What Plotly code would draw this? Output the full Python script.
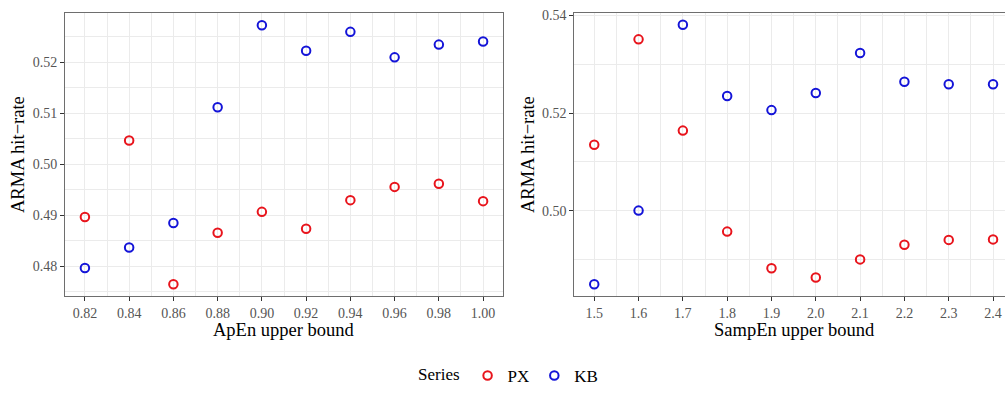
import plotly.graph_objects as go

apen_x = [0.82, 0.84, 0.86, 0.88, 0.90, 0.92, 0.94, 0.96, 0.98, 1.00]
apen_px = [0.4897, 0.5047, 0.4765, 0.4866, 0.4907, 0.4874, 0.4930, 0.4956, 0.4962, 0.4928]
apen_kb = [0.4797, 0.4837, 0.4885, 0.5112, 0.5273, 0.5223, 0.5260, 0.5210, 0.5235, 0.5241]

sampen_x = [1.5, 1.6, 1.7, 1.8, 1.9, 2.0, 2.1, 2.2, 2.3, 2.4]
sampen_px = [0.5135, 0.5351, 0.5164, 0.4957, 0.4882, 0.4863, 0.4900, 0.4930, 0.4940, 0.4941]
sampen_kb = [0.4849, 0.5000, 0.5381, 0.5235, 0.5206, 0.5241, 0.5323, 0.5264, 0.5259, 0.5259]

series_names = ["PX", "KB"]
series_colors = ["#E8141C", "#1414D8"]

FONT = "Liberation Serif"
W, H = 1005, 394

fig = go.Figure()

def add_points(x, y, name, color, xa, ya, show):
    fig.add_trace(go.Scatter(
        x=x, y=y, mode="markers", name=name, legendgroup=name, showlegend=show,
        xaxis=xa, yaxis=ya,
        marker=dict(symbol="circle-open", size=8.5, color=color, line=dict(width=2, color=color)),
    ))

add_points(apen_x, apen_px, series_names[0], series_colors[0], "x", "y", True)
add_points(apen_x, apen_kb, series_names[1], series_colors[1], "x", "y", True)
add_points(sampen_x, sampen_px, series_names[0], series_colors[0], "x2", "y2", False)
add_points(sampen_x, sampen_kb, series_names[1], series_colors[1], "x2", "y2", False)

grid = "#EBEBEB"
common = dict(
    showgrid=True, gridcolor=grid, gridwidth=1, zeroline=False, automargin=False,
    showline=True, linecolor="#6E6E6E", linewidth=1, mirror=True,
    ticks="outside", ticklen=4, tickcolor="#333333", tickwidth=1,
    tickfont=dict(family=FONT, size=14, color="#555555"),
)

ydom = [1 - 296 / H, 1 - 13 / H]

fig.update_layout(
    width=W, height=H,
    margin=dict(l=0, r=0, t=0, b=0, autoexpand=False),
    paper_bgcolor="white", plot_bgcolor="white",
    font=dict(family=FONT),
    xaxis=dict(domain=[65 / W, 503 / W], anchor="y", range=[0.811, 1.009],
               tick0=0.82, dtick=0.02, tickformat=".2f",
               minor=dict(dtick=0.01, tick0=0.81, showgrid=True, gridcolor=grid, gridwidth=0.6),
               **common),
    yaxis=dict(domain=ydom, anchor="x", range=[0.4742, 0.5297],
               tick0=0.48, dtick=0.01, tickformat=".2f",
               minor=dict(dtick=0.005, tick0=0.475, showgrid=True, gridcolor=grid, gridwidth=0.6),
               **common),
    xaxis2=dict(domain=[574.3 / W, 1.0], anchor="y2", range=[1.455, 2.427],
                tick0=1.5, dtick=0.1, tickformat=".1f",
                minor=dict(dtick=0.05, tick0=1.45, showgrid=True, gridcolor=grid, gridwidth=0.6),
                **common),
    yaxis2=dict(domain=ydom, anchor="x2", range=[0.4825, 0.5405],
                tick0=0.48, dtick=0.02, tickformat=".2f",
                minor=dict(dtick=0.01, tick0=0.48, showgrid=True, gridcolor=grid, gridwidth=0.6),
                **common),
    legend=dict(orientation="h", x=0.507, xanchor="center", y=0.0, yanchor="bottom",
                title=dict(text="Series", font=dict(family=FONT, size=17, color="black")),
                font=dict(family=FONT, size=17, color="black"),
                itemwidth=30, tracegroupgap=0),
)

TF = dict(family=FONT, size=18.5, color="black")
annotations = [
    dict(text="ApEn upper bound", x=284 / W, y=1 - 330 / H, xref="paper", yref="paper",
         showarrow=False, font=TF, xanchor="center", yanchor="middle"),
    dict(text="SampEn upper bound", x=794 / W, y=1 - 330 / H, xref="paper", yref="paper",
         showarrow=False, font=TF, xanchor="center", yanchor="middle"),
    dict(text="ARMA hit\u2212rate", x=18 / W, y=1 - 155 / H, xref="paper", yref="paper", textangle=-90,
         showarrow=False, font=TF, xanchor="center", yanchor="middle"),
    dict(text="ARMA hit\u2212rate", x=528 / W, y=1 - 155 / H, xref="paper", yref="paper", textangle=-90,
         showarrow=False, font=TF, xanchor="center", yanchor="middle"),
]
fig.update_layout(annotations=annotations)

fig.write_html("out.html")
